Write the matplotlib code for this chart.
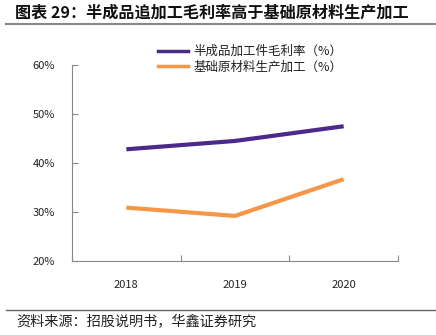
import matplotlib
matplotlib.use("Agg")
import matplotlib.pyplot as plt
from matplotlib.lines import Line2D

plt.rcParams['font.family'] = ['Noto Sans CJK SC', 'DejaVu Sans']

years = ["2018", "2019", "2020"]
semi_margin = [42.8, 44.5, 47.5]
basic_margin = [30.9, 29.2, 36.7]
series_names = ["半成品加工件毛利率（%）", "基础原材料生产加工（%）"]
y_ticks = [20, 30, 40, 50, 60]

title = "图表 29：半成品追加工毛利率高于基础原材料生产加工"
source = "资料来源：招股说明书，华鑫证券研究"

W, H = 436, 335
fig = plt.figure(figsize=(W / 100, H / 100), dpi=100)

ax = fig.add_axes([72 / W, 1 - 261 / H, (398 - 72) / W, (261 - 65) / H])
x = [0.5, 1.5, 2.5]
ax.plot(x, semi_margin, color="#4b2a8a", lw=3, solid_capstyle="butt")
ax.plot(x, basic_margin, color="#f79646", lw=3, solid_capstyle="butt")

ax.set_xlim(0, 3)
ax.set_ylim(20, 60)
ax.set_yticks(y_ticks)
ax.set_yticklabels([f"{v}%" for v in y_ticks], fontsize=8, color="#222222")
ax.set_xticks([0, 1, 2, 3])
ax.set_xticklabels([])
ax.set_xticks(x, minor=True)
ax.set_xticklabels(years, minor=True, fontsize=8, color="#222222")
ax.tick_params(axis="x", which="minor", length=0, pad=14)
ax.tick_params(axis="x", which="major", length=4, direction="in", color="#888888")
ax.tick_params(axis="y", length=4, direction="in", color="#888888", pad=12)
for s in ("top", "right"):
    ax.spines[s].set_visible(False)
for s in ("left", "bottom"):
    ax.spines[s].set_color("#888888")
    ax.spines[s].set_linewidth(0.8)

handles = [Line2D([], [], color="#4b2a8a", lw=2.5),
           Line2D([], [], color="#f79646", lw=2.5)]
fig.legend(handles, series_names, loc="upper left",
           bbox_to_anchor=(147 / W, 1 - 34 / H), frameon=False,
           fontsize=9, handlelength=2.4, handletextpad=0.4,
           labelspacing=0.2, labelcolor="#222222")

fig.text(15 / W, 1 - 13 / H, title, fontsize=11.6, fontweight="bold",
         color="#111111", va="center", ha="left")
fig.add_artist(Line2D([6 / W, 1], [1 - 24 / H, 1 - 24 / H],
                      color="#888888", lw=1.5, transform=fig.transFigure))
fig.add_artist(Line2D([6 / W, 1], [1 - 310 / H, 1 - 310 / H],
                      color="#666666", lw=1.0, transform=fig.transFigure))
fig.text(16 / W, 1 - 322 / H, source, fontsize=10.2, color="#222222",
         va="center", ha="left")

fig.savefig("out.png", dpi=100)
